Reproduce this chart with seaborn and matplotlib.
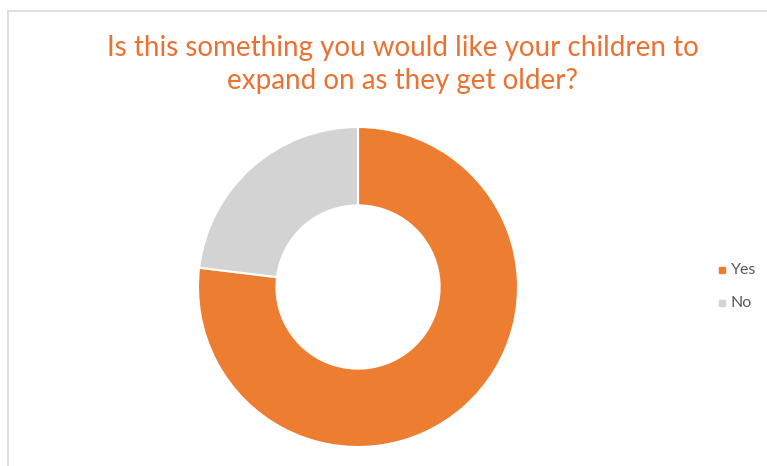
import matplotlib
matplotlib.use("Agg")
import matplotlib.pyplot as plt
from matplotlib.lines import Line2D
import seaborn as sns

# Survey answers
answers = ["Yes", "No"]
counts = [10, 3]
colors = ["#ED7D31", "#D3D3D3"]
title_lines = ["Is this something you would like your children to",
               "expand on as they get older?"]

sns.set_theme(style="white")
plt.rcParams["font.family"] = ["Lato", "DejaVu Sans"]

W, H = 767, 466
fig = plt.figure(figsize=(W / 100, H / 100), dpi=100)

# Chart frame (top and left edges visible)
fig.add_artist(Line2D([8 / W, 1.0], [1 - 11 / H, 1 - 11 / H], color="#D9D9D9", lw=1.2))
fig.add_artist(Line2D([8 / W, 8 / W], [0, 1 - 11 / H], color="#D9D9D9", lw=1.2))

# Donut axes: centre (358, 287), outer radius 160 px
cx, cy, r = 358, 287, 160
ax = fig.add_axes([(cx - r) / W, 1 - (cy + r) / H, 2 * r / W, 2 * r / H])
wedges, _ = ax.pie(
    counts,
    colors=colors,
    startangle=90,
    counterclock=False,
    radius=1.0,
    wedgeprops=dict(width=0.49, edgecolor="white", linewidth=1.5),
)
ax.set_xlim(-1, 1)
ax.set_ylim(-1, 1)
ax.set_aspect("equal")
ax.axis("off")

# Title, two centred lines
for line, base in zip(title_lines, [56, 89]):
    fig.text(402.5 / W, 1 - base / H, line, ha="center", va="baseline",
             color="#E97132", fontsize=20)

# Legend
for i, (lab, col) in enumerate(zip(answers, colors)):
    y = 1 - (270 + 33 * i) / H
    fig.add_artist(Line2D([722 / W], [y], marker="s", markersize=5,
                          color=col, linestyle="none"))
    fig.text(731 / W, y, lab, ha="left", va="center", color="#595959", fontsize=11.5)

fig.savefig("out.png", dpi=100)
